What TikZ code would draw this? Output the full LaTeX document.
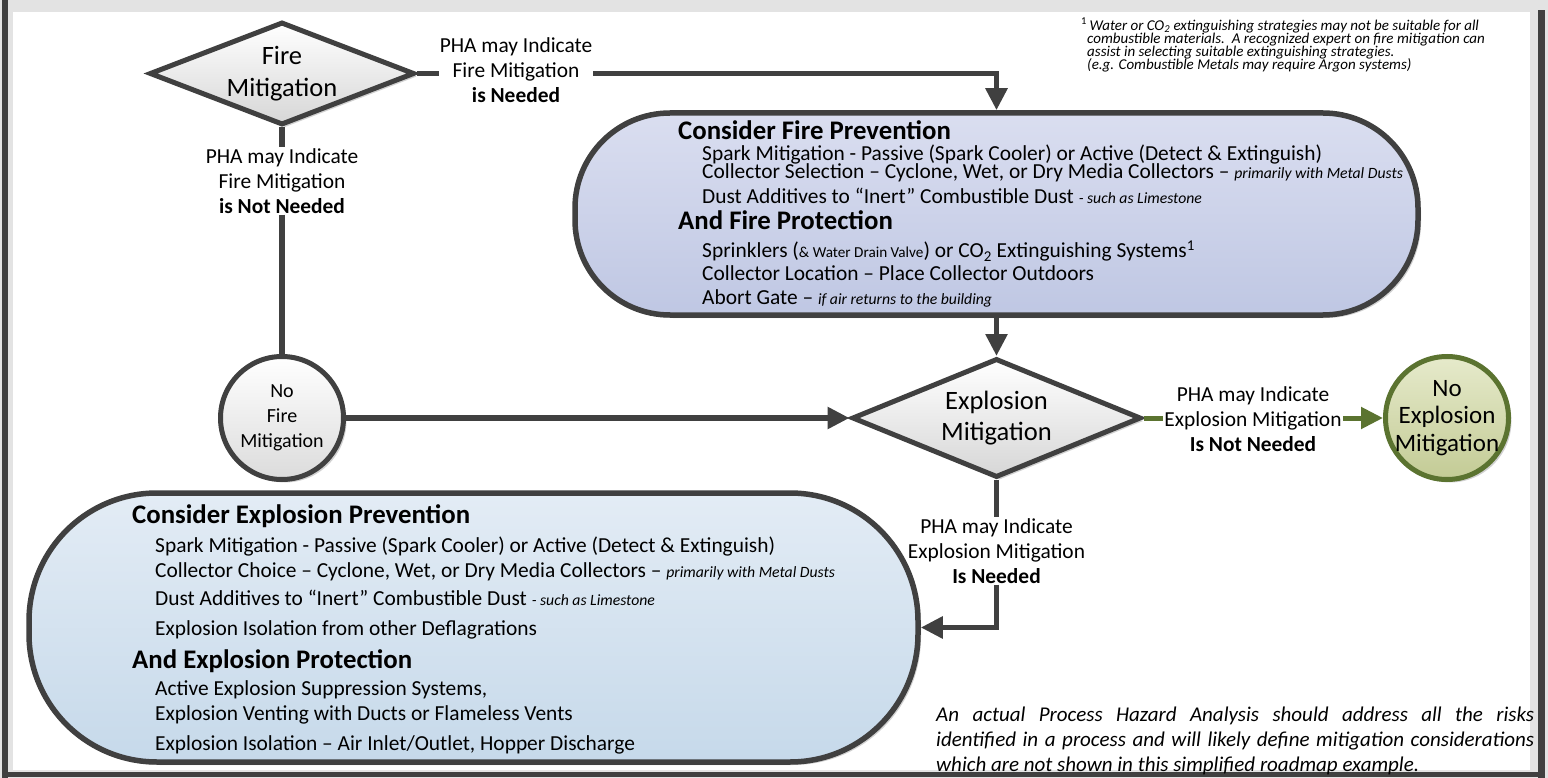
\documentclass[tikz,border=0pt]{standalone}
\usepackage{fontspec}
\setmainfont{Carlito}
\usetikzlibrary{shapes.geometric, arrows.meta, positioning, shadows}
\definecolor{linegray}{HTML}{404040}
\definecolor{framegray}{HTML}{E3E3E3}
\definecolor{explgreen}{HTML}{5B7330}
\definecolor{firetop}{HTML}{DADEF0}
\definecolor{firebot}{HTML}{BFC7E3}
\definecolor{expltop}{HTML}{E3ECF5}
\definecolor{explbot}{HTML}{C6D9EA}
\definecolor{nxtop}{HTML}{E6EACB}
\definecolor{nxbot}{HTML}{C3CB95}
\newcommand*{\noteit}[1]{{\fontsize{15.7}{17}\selectfont\itshape #1}}
\newcommand*{\noterm}[1]{{\fontsize{15.2}{17}\selectfont #1}}
\lineskiplimit=-20pt
\tikzset{
 flow/.style={draw=linegray, line width=5.5pt},
 gflow/.style={draw=explgreen, line width=5pt},
 arr/.style={-{Triangle[length=22pt, width=21pt]}},
 shad/.style={drop shadow={shadow xshift=3pt, shadow yshift=-3pt, fill=black, opacity=0.18}},
 decision/.style={diamond, draw=linegray, line width=5pt, top color=white, bottom color=black!16, inner sep=0pt, align=center, font=\fontsize{26.5}{31.5}\selectfont, shad},
 term/.style={circle, draw=linegray, line width=5pt, top color=white, bottom color=black!14, inner sep=0pt, align=center, minimum size=123pt, shad},
 roadmap/.style={rectangle, draw=linegray, line width=5.5pt, shad},
 lbl/.style={font=\fontsize{21.4}{25}\selectfont, align=center, inner sep=1pt},
 hd/.style={anchor=base west, inner sep=0pt, font=\fontsize{26.8}{30}\selectfont\bfseries},
 itm/.style={anchor=base west, inner sep=0pt, font=\fontsize{21.4}{25}\selectfont},
}
\begin{document}
\begin{tikzpicture}[x=1pt, y=-1pt]
 \useasboundingbox (0,0) rectangle (1548,778);
 \fill[framegray] (0,0) rectangle (1548,778);
 \fill[white] (13,12) rectangle (1530,770);
 \fill[linegray] (2,0) rectangle (8,778);
 \fill[linegray] (1538,10) rectangle (1545,778);
 \fill[linegray] (2,772) rectangle (1545,777);

 \node[decision, minimum width=265, minimum height=103, shape aspect=2.57] (D1) at (282,73.5) {Fire\\Mitigation};
 \node[lbl] (L1) at (516,70) {PHA may Indicate\\Fire Mitigation\\\textbf{is Needed}};
 \node[lbl] (L2) at (282,181) {PHA may Indicate\\Fire Mitigation\\\textbf{is Not Needed}};
 \node[term, font=\fontsize{20}{25}\selectfont] (C1) at (282,418) {No\\Fire\\Mitigation};

 \node[roadmap, rounded corners=95pt, minimum width=843, minimum height=202, top color=firetop, bottom color=firebot] (FP) at (996.5,214) {};
 \node[decision, minimum width=289, minimum height=119, shape aspect=2.43] (D2) at (996.5,418) {Explosion\\Mitigation};
 \node[lbl] (L3) at (1253,419) {PHA may Indicate\\Explosion Mitigation\\\textbf{Is Not Needed}};
 \node[term, draw=explgreen, top color=nxtop, bottom color=nxbot] (C2) at (1447,418) {};
 \node[font=\fontsize{25}{27.5}\selectfont, align=center, inner sep=0pt] (C2t) at (C2) {No\\Explosion\\Mitigation};
 \node[lbl] (L4) at (996.5,551) {PHA may Indicate\\Explosion Mitigation\\\textbf{Is Needed}};
 \node[roadmap, rounded corners=128pt, minimum width=889, minimum height=269, top color=expltop, bottom color=explbot] (EP) at (473.5,627.5) {};

 \node[hd] (FP0) at (678,139.5) {Consider Fire Prevention};
 \node[itm] (FP1) at (702,160.5) {Spark Mitigation - Passive (Spark Cooler) or Active (Detect \& Extinguish)};
 \node[itm] (FP2) at (702,179) {Collector Selection -- Cyclone, Wet, or Dry Media Collectors -- \noteit{primarily with Metal Dusts}};
 \node[itm] (FP3) at (702,203.5) {Dust Additives to “Inert” Combustible Dust \noteit{- such as Limestone}};
 \node[hd] (FP4) at (678,230) {And Fire Protection};
 \node[itm] (FP5) at (702,258) {Sprinklers (\noterm{\& Water Drain Valve}) or CO\textsubscript{2} Extinguishing Systems\textsuperscript{1}};
 \node[itm] (FP6) at (702,280.5) {Collector Location -- Place Collector Outdoors};
 \node[itm] (FP7) at (702,304.5) {Abort Gate -- \noteit{if air returns to the building}};

 \node[hd] (EP0) at (132,523.5) {Consider Explosion Prevention};
 \node[itm] (EP1) at (155,552) {Spark Mitigation - Passive (Spark Cooler) or Active (Detect \& Extinguish)};
 \node[itm] (EP2) at (155,577) {Collector Choice -- Cyclone, Wet, or Dry Media Collectors -- \noteit{primarily with Metal Dusts}};
 \node[itm] (EP3) at (155,605) {Dust Additives to “Inert” Combustible Dust \noteit{- such as Limestone}};
 \node[itm] (EP4) at (155,635) {Explosion Isolation from other Deflagrations};
 \node[hd] (EP5) at (132,668.5) {And Explosion Protection};
 \node[itm] (EP6) at (155,695) {Active Explosion Suppression Systems,};
 \node[itm] (EP7) at (155,720) {Explosion Venting with Ducts or Flameless Vents};
 \node[itm] (EP8) at (155,750) {Explosion Isolation -- Air Inlet/Outlet, Hopper Discharge};

 \node[anchor=north west, inner sep=0pt, align=left, font=\fontsize{15}{13}\selectfont\itshape] (FN) at (1081,18) {\textsuperscript{\upshape 1}\,Water or CO\textsubscript{2} extinguishing strategies may not be suitable for all\\
 \hspace*{6pt}combustible materials.\ \ A recognized expert on fire mitigation can\\
 \hspace*{6pt}assist in selecting suitable extinguishing strategies.\\
 \hspace*{6pt}(e.g. Combustible Metals may require Argon systems)};
 \node[anchor=north west, inner sep=0pt, text width=598pt, align=justify, font=\fontsize{21}{25}\selectfont\itshape] (BN) at (936,707) {An actual Process Hazard Analysis should address all the risks\linebreak identified in a process and will likely define mitigation considerations\linebreak which are not shown in this simplified roadmap example.};

 \draw[flow] (D1.east) -- (L1.west |- D1.east);
 \draw[flow, arr] (L1.east |- D1.east) -| (FP.north);
 \draw[flow] (D1.south) -- (L2.north);
 \draw[flow] (L2.south) -- (C1.north);
 \draw[flow, arr] (C1.east) -- (D2.west);
 \draw[flow, arr] (FP.south) -- (D2.north);
 \draw[gflow] (D2.east) -- (L3.west |- D2.east);
 \draw[gflow, arr] (L3.east |- D2.east) -- (C2.west);
 \draw[flow] (D2.south) -- (L4.north);
 \draw[flow, arr] (L4.south) |- (EP.east);
\end{tikzpicture}
\end{document}
